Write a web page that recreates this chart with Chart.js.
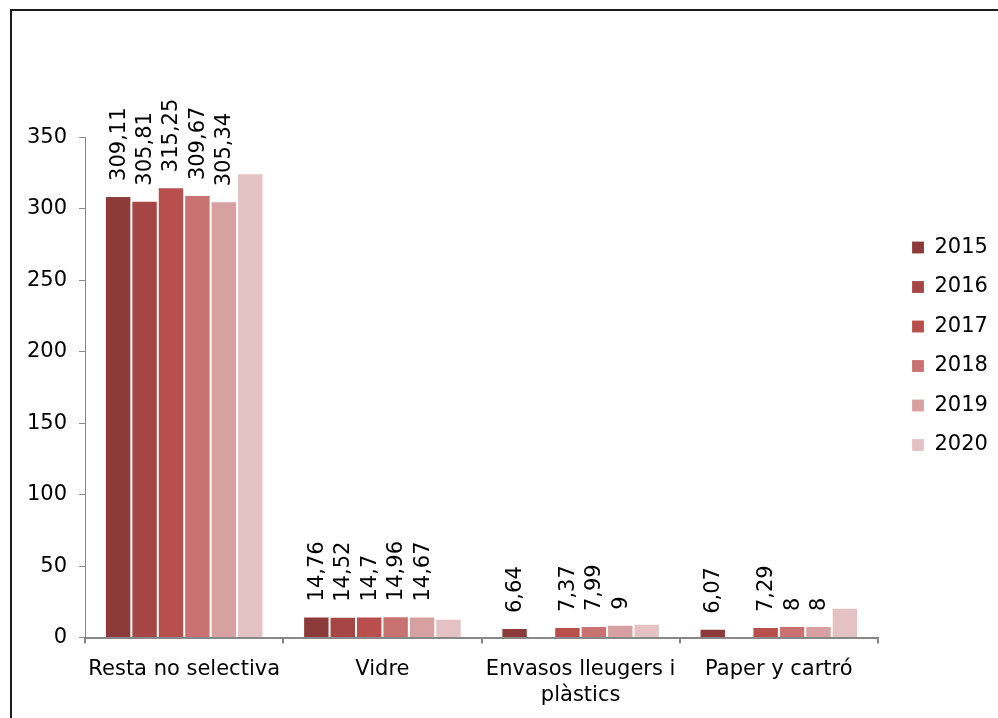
<!DOCTYPE html>
<html>
<head>
<meta charset="utf-8">
<title>Residus per fracció</title>
<script src="https://cdn.jsdelivr.net/npm/chart.js@4.4.1/dist/chart.umd.min.js"></script>
<style>
  body { margin: 0; background: #fff; overflow: hidden; }
  #marc { position: absolute; left: 10px; top: 9px; width: 1000px; height: 720px; border: 2px solid #1a1a1a; }
  #grafic { position: absolute; left: 0; top: 0; }
</style>
</head>
<body>
<div id="marc"></div>
<canvas id="grafic" width="998" height="718"></canvas>
<script>
// dades
const categories = ["Resta no selectiva", "Vidre", ["Envasos lleugers i", "plàstics"], "Paper y cartró"];
const anys = ["2015", "2016", "2017", "2018", "2019", "2020"];
const valors2015 = [309.11, 14.76, 6.64, 6.07];
const valors2016 = [305.81, 14.52, null, null];
const valors2017 = [315.25, 14.7, 7.37, 7.29];
const valors2018 = [309.67, 14.96, 7.99, 8];
const valors2019 = [305.34, 14.67, 9, 8];
const valors2020 = [325, 13.1, 9.6, 20.8]; // al original no porten etiqueta
const ticksY = [0, 50, 100, 150, 200, 250, 300, 350];

const colors = ["#8c3a3a", "#a54544", "#b84f4d", "#c87372", "#d8a1a1", "#e4c2c4"];
const ambEtiqueta = [true, true, true, true, true, false];
const series = [valors2015, valors2016, valors2017, valors2018, valors2019, valors2020];

const font = "'DejaVu Sans', Verdana, sans-serif";
const midaLletra = 21;
const grisEix = "#878787";

// etiquetes girades damunt de cada barra
const etiquetesBarres = {
  id: "etiquetesBarres",
  afterDatasetsDraw(chart) {
    const ctx = chart.ctx;
    ctx.save();
    ctx.font = midaLletra + "px " + font;
    ctx.fillStyle = "#000";
    ctx.textAlign = "left";
    ctx.textBaseline = "middle";
    chart.data.datasets.forEach((ds, i) => {
      if (!ambEtiqueta[i]) return;
      chart.getDatasetMeta(i).data.forEach((barra, j) => {
        const v = ds.data[j];
        if (v === null) return;
        ctx.save();
        ctx.translate(barra.x + 1, barra.y - 15);
        ctx.rotate(-Math.PI / 2);
        ctx.fillText(String(v).replace(".", ","), 0, 0);
        ctx.restore();
      });
    });
    ctx.restore();
  }
};

// la llegenda va una mica mes amunt i a la dreta que on la posa Chart.js
const mouLlegenda = {
  id: "mouLlegenda",
  afterLayout(chart) {
    const l = chart.legend;
    const pad = l.options.labels.padding;
    l.left = 912 - pad;
    l.right = l.left + l.width;
    l.top = 237 - pad;
  }
};

const ctx = document.getElementById("grafic").getContext("2d");
const chart = new Chart(ctx, {
  type: "bar",
  data: {
    labels: categories,
    datasets: anys.map((any, i) => ({
      label: any,
      data: series[i],
      backgroundColor: colors[i],
      borderColor: "rgba(255,255,255,0.22)",
      borderWidth: { left: 1, right: 1, top: 1, bottom: 0 },
      borderSkipped: false,
      categoryPercentage: 0.8,
      barPercentage: 1.0
    }))
  },
  options: {
    responsive: false,
    devicePixelRatio: 1,
    animation: false,
    layout: { padding: { left: 15, right: 15.6, top: 137.5, bottom: -4 } },
    plugins: {
      tooltip: { enabled: false },
      legend: {
        position: "right",
        align: "start",
        labels: {
          boxWidth: 12,
          boxHeight: 12,
          padding: 18.5,
          color: "#000",
          font: { family: font, size: midaLletra }
        }
      }
    },
    scales: {
      x: {
        grid: { display: true, drawOnChartArea: false, tickLength: 6, color: grisEix, lineWidth: 2 },
        border: { display: true, color: grisEix, width: 2 },
        ticks: { color: "#000", padding: 13, maxRotation: 0, autoSkip: false, font: { family: font, size: midaLletra, lineHeight: 1.25 } }
      },
      y: {
        min: 0,
        max: 350,
        afterBuildTicks: axis => { axis.ticks = ticksY.map(v => ({ value: v })); },
        grid: { display: true, drawOnChartArea: false, tickLength: 6, color: grisEix, lineWidth: 1 },
        border: { display: true, color: grisEix, width: 1 },
        ticks: { color: "#000", padding: 12, font: { family: font, size: midaLletra } }
      }
    }
  },
  plugins: [etiquetesBarres, mouLlegenda]
});
</script>
</body>
</html>
